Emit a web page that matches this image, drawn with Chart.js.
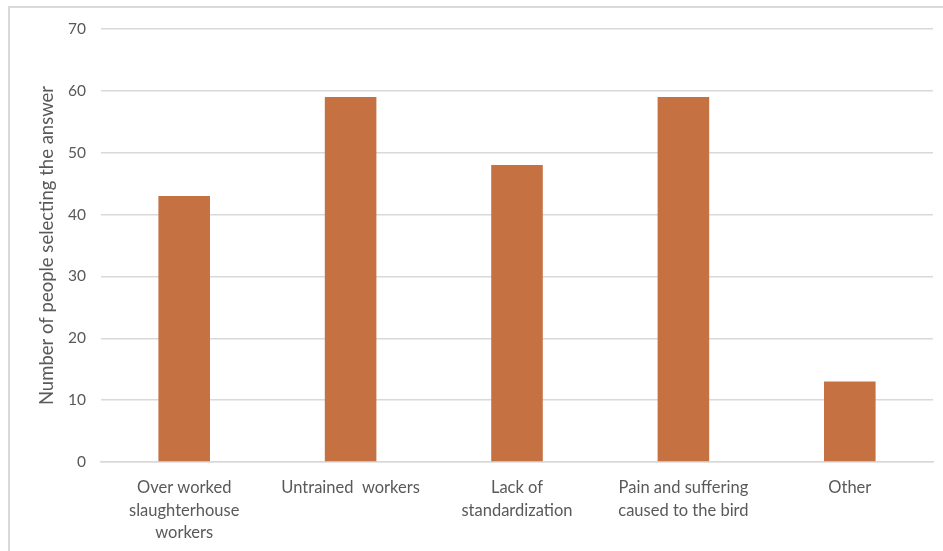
<!DOCTYPE html>
<html>
<head>
<meta charset="utf-8">
<script src="https://cdn.jsdelivr.net/npm/chart.js@4"></script>
<style>
  html, body { margin: 0; padding: 0; background: #fff; overflow: hidden; }
  #box { position: absolute; left: 0; top: 0; width: 943px; height: 551px; }
  #frame { position: absolute; left: 8px; top: 6px; width: 960px; height: 560px;
           border-top: 2px solid #d9d9d9; border-left: 2px solid #d9d9d9; }
  canvas { position: absolute; left: 0; top: 0; }
</style>
</head>
<body>
<div id="box">
  <div id="frame"></div>
  <canvas id="grafico" width="943" height="551"></canvas>
</div>
<script>
const categorias = [
  ["Over worked", "slaughterhouse", "workers"],
  "Untrained  workers",
  ["Lack of", "standardization"],
  ["Pain and suffering", "caused to the bird"],
  "Other"
];
const respostas = [43, 59, 48, 59, 13];
const tituloY = "Number of people selecting the answer";

const corTexto = "#595959";
const familia = "Lato, 'Open Sans', sans-serif";

new Chart(document.getElementById("grafico"), {
  type: "bar",
  data: {
    labels: categorias,
    datasets: [{
      label: tituloY,
      data: respostas,
      backgroundColor: "#C57142",
      categoryPercentage: 1,
      barPercentage: 0.31
    }]
  },
  options: {
    responsive: false,
    animation: false,
    layout: { padding: { left: 36, right: 10, top: 29, bottom: 4 } },
    scales: {
      y: {
        min: 0,
        max: 70,
        ticks: { stepSize: 10, color: corTexto, font: { family: familia, size: 15.5 }, padding: 15 },
        grid: { color: "#d9d9d9", lineWidth: 1.5, drawTicks: false },
        border: { display: false },
        title: { display: true, text: tituloY, color: corTexto, font: { family: familia, size: 18.5 }, padding: 0 },
        afterFit: s => { s.width = 65; }
      },
      x: {
        ticks: { color: corTexto, font: { family: familia, size: 16.5, lineHeight: 1.35 }, padding: 7, maxRotation: 0 },
        grid: { display: false },
        border: { color: "#d9d9d9", width: 1.5 },
        afterFit: s => { s.height = 85; }
      }
    },
    plugins: {
      legend: { display: false },
      tooltip: { enabled: false }
    }
  }
});
</script>
</body>
</html>
